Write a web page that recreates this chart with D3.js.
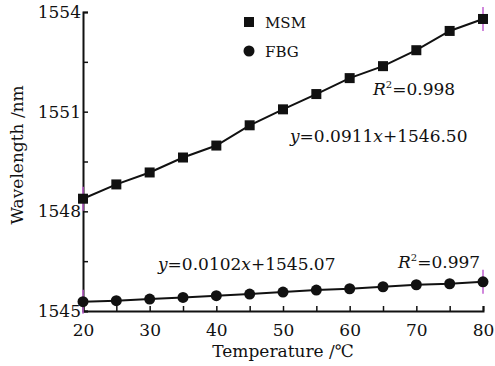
<!DOCTYPE html>
<html>
<head>
<meta charset="utf-8">
<script src="https://cdn.jsdelivr.net/npm/d3@7"></script>
<style>
body { margin: 0; background: #fff; }
text { font-family: "DejaVu Serif", serif; fill: #111; }
</style>
</head>
<body>
<div id="chart"></div>
<script>
var w = 495,
	h = 366;

// Data
var temps = [20, 25, 30, 35, 40, 45, 50, 55, 60, 65, 70, 75, 80];
var msm = [1548.38, 1548.81, 1549.17, 1549.62, 1549.98, 1550.59, 1551.07, 1551.53, 1552.01, 1552.37, 1552.85, 1553.43, 1553.79];
var fbg = [1545.28, 1545.31, 1545.36, 1545.41, 1545.46, 1545.51, 1545.57, 1545.63, 1545.67, 1545.73, 1545.79, 1545.82, 1545.88];
var xTicks = [20, 30, 40, 50, 60, 70, 80];
var yTicks = [1545, 1548, 1551, 1554];

var margin = {left: 83, right: 12, top: 12, bottom: 55};

var x = d3.scaleLinear().domain([20, 80]).range([margin.left, w - margin.right]);
var y = d3.scaleLinear().domain([1545, 1554]).range([h - margin.bottom, margin.top]);

var svg = d3.select("#chart").append("svg")
	.attr("width", w)
	.attr("height", h);

// Axes (ticks point inward)
var xAxis = svg.append("g")
	.attr("transform", "translate(0," + y(1545) + ")")
	.call(d3.axisBottom(x).tickValues(d3.range(20, 81, 5)).tickSize(-5).tickFormat(function(d){ return xTicks.indexOf(d) >= 0 ? d : ""; }).tickPadding(13));
var yAxis = svg.append("g")
	.attr("transform", "translate(" + x(20) + ",0)")
	.call(d3.axisLeft(y).tickValues(d3.range(1545, 1554.1, 1.5)).tickSize(-5).tickFormat(function(d){ return yTicks.indexOf(d) >= 0 ? d : ""; }).tickPadding(2));

[xAxis, yAxis].forEach(function(a){
	a.select(".domain").attr("stroke", "#111").attr("stroke-width", 2);
	a.selectAll(".tick line").attr("stroke", "#111").attr("stroke-width", 1.5);
	a.selectAll(".tick text").attr("font-size", "17px").attr("font-family", "DejaVu Serif").attr("fill", "#111");
});

// Axis titles
svg.append("text")
	.attr("x", x(50))
	.attr("y", 357)
	.attr("text-anchor", "middle")
	.attr("font-size", "17px")
	.text("Temperature /℃");
svg.append("text")
	.attr("transform", "translate(23," + y(1549.7) + ") rotate(-90)")
	.attr("text-anchor", "middle")
	.attr("font-size", "17px")
	.text("Wavelength /nm");

var line = d3.line()
	.x(function(d, i){ return x(temps[i]); })
	.y(function(d){ return y(d); });

[msm, fbg].forEach(function(s){
	svg.append("path")
		.datum(s)
		.attr("d", line)
		.attr("fill", "none")
		.attr("stroke", "#111")
		.attr("stroke-width", 2);
	// small magenta markers at the ends
	[temps[0], temps[temps.length - 1]].forEach(function(t, j){
		var v = j == 0 ? s[0] : s[s.length - 1];
		svg.append("line")
			.attr("x1", x(t)).attr("x2", x(t))
			.attr("y1", y(v) - 12).attr("y2", y(v) + 12)
			.attr("stroke", "#c060d0")
			.attr("stroke-width", 1.5);
	});
});

// MSM squares
svg.selectAll(".sq")
	.data(msm)
	.enter()
	.append("rect")
	.attr("x", function(d, i){ return x(temps[i]) - 5; })
	.attr("y", function(d){ return y(d) - 5; })
	.attr("width", 10)
	.attr("height", 10)
	.attr("fill", "#111");

// FBG circles
svg.selectAll(".ci")
	.data(fbg)
	.enter()
	.append("circle")
	.attr("cx", function(d, i){ return x(temps[i]); })
	.attr("cy", function(d){ return y(d); })
	.attr("r", 5.5)
	.attr("fill", "#111");

// Legend
var legend = svg.append("g").attr("transform", "translate(249,22)");
legend.append("rect").attr("x", -5).attr("y", -5).attr("width", 10).attr("height", 10).attr("fill", "#111");
legend.append("circle").attr("cx", 0).attr("cy", 29).attr("r", 5.5).attr("fill", "#111");
legend.append("text").attr("x", 16).attr("y", 6).attr("font-size", "15px").text("MSM");
legend.append("text").attr("x", 16).attr("y", 35).attr("font-size", "15px").text("FBG");

// Fit annotations
function eq(g, xx, yy, parts) {
	var t = g.append("text").attr("x", xx).attr("y", yy).attr("font-size", "17px");
	parts.forEach(function(p){
		var ts = t.append("tspan").text(p[0]);
		if (p[1] == "i") ts.attr("font-style", "italic");
		if (p[1] == "sup") ts.attr("font-size", "10px").attr("dy", -7);
		if (p[1] == "after") ts.attr("dy", 7);
	});
}
eq(svg, 373, 95, [["R", "i"], ["2", "sup"], ["=0.998", "after"]]);
eq(svg, 290, 142, [["y", "i"], ["=0.0911", ""], ["x", "i"], ["+1546.50", ""]]);
eq(svg, 158, 270, [["y", "i"], ["=0.0102", ""], ["x", "i"], ["+1545.07", ""]]);
eq(svg, 398, 268, [["R", "i"], ["2", "sup"], ["=0.997", "after"]]);
</script>
</body>
</html>
